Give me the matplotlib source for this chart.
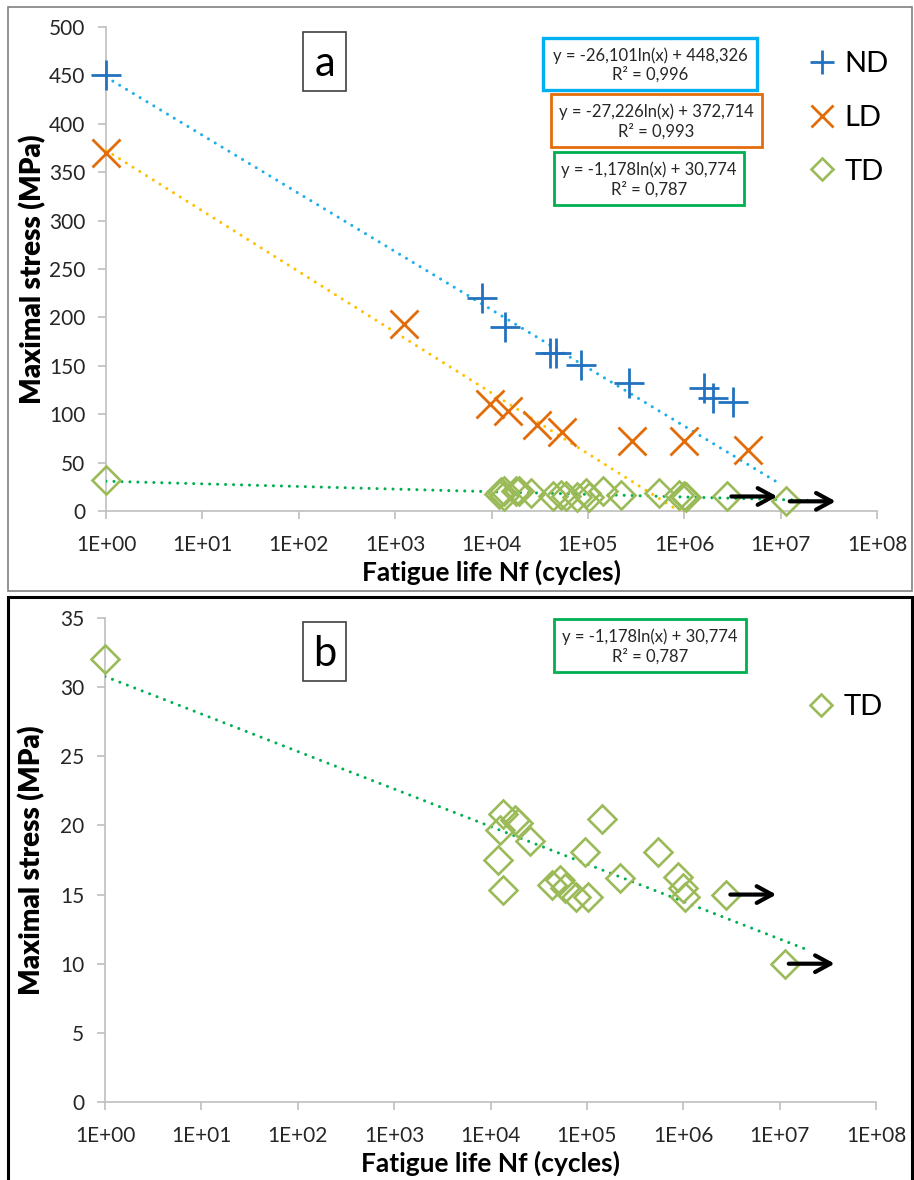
import numpy as np
import matplotlib
matplotlib.use("Agg")
import matplotlib.pyplot as plt
from matplotlib.patches import Rectangle
from matplotlib.ticker import NullLocator, FuncFormatter

plt.rcParams['font.family'] = ['Lato', 'DejaVu Sans']

# ---- data ----
nd_life = [1, 7.9e3, 1.38e4, 4.0e4, 4.7e4, 8.5e4, 2.7e5, 1.6e6, 2.0e6, 3.2e6]
nd_stress = [450, 220, 190, 163, 163, 151, 132, 127, 117, 113]

ld_life = [1, 1.25e3, 9.6e3, 1.48e4, 3.0e4, 5.4e4, 2.9e5, 1.0e6, 4.6e6]
ld_stress = [370, 193, 111, 103, 89, 82, 72, 72, 63]

td_life = [1, 1.35e4, 1.8e4, 1.94e4, 1.26e4, 2.57e4, 1.2e4, 1.35e4, 1.42e5, 9.5e4,
           4.3e4, 5.3e4, 5.9e4, 7.8e4, 1.03e5, 2.2e5, 5.5e5, 8.9e5, 1.0e6, 1.04e6,
           2.8e6, 1.13e7]
td_stress = [32, 20.8, 20.4, 20.2, 19.7, 18.9, 17.5, 15.3, 20.5, 18.1,
             15.7, 16.05, 15.5, 14.85, 14.85, 16.2, 18.1, 16.3, 15.45, 14.85,
             15.0, 10.0]

# run-outs (arrows)
runout_life = [2.8e6, 1.13e7]
runout_stress = [15.0, 10.0]

# log trend lines: y = a*ln(x) + b
nd_fit = (-26.101, 448.326, 0.996)
ld_fit = (-27.226, 372.714, 0.993)
td_fit = (-1.178, 30.774, 0.787)

xticks = [1e0, 1e1, 1e2, 1e3, 1e4, 1e5, 1e6, 1e7, 1e8]

ND_C, LD_C, TD_C = "#2372C0", "#E36C0A", "#9BBB59"
ND_T, LD_T, TD_T = "#1CAEEB", "#FFC000", "#00B050"

W, H = 914, 1180
fig = plt.figure(figsize=(W / 100, H / 100), dpi=100)


def fx(px):
    return px / W


def fy(py):
    return 1 - py / H


def fig_rect(x0, y0, x1, y1, **kw):
    r = Rectangle((fx(x0), fy(y1)), fx(x1) - fx(x0), fy(y0) - fy(y1),
                  transform=fig.transFigure, fill=False, **kw)
    fig.add_artist(r)


def eq_text(fit):
    a, b, r2 = fit
    s = f"y = {a:.3f}ln(x) + {b:.3f}\nR² = {r2:.3f}"
    return s.replace(".", ",")


def style_axes(ax, ymax, ystep):
    ax.set_xscale('log')
    ax.set_xlim(1, 1e8)
    ax.set_ylim(0, ymax)
    ax.set_xticks(xticks)
    ax.xaxis.set_minor_locator(NullLocator())
    ax.xaxis.set_major_formatter(FuncFormatter(lambda v, p: f"1E+{int(round(np.log10(v))):02d}"))
    ax.set_yticks(np.arange(0, ymax + 0.1, ystep))
    for s in ['top', 'right']:
        ax.spines[s].set_visible(False)
    for s in ['left', 'bottom']:
        ax.spines[s].set_color('#BFBFBF')
        ax.spines[s].set_linewidth(1.2)
    ax.tick_params(axis='both', direction='out', length=6, width=1.2,
                   color='#BFBFBF', labelcolor='#262626', labelsize=15, pad=9)
    ax.tick_params(axis='x', pad=11)
    ax.set_xlabel("Fatigue life Nf (cycles)", fontsize=19, fontweight='bold')
    ax.set_ylabel("Maximal stress (MPa)", fontsize=20, fontweight='heavy')
    ax.xaxis.set_label_coords(0.5, -0.1)
    ax.yaxis.set_label_coords(-0.078, 0.5)
    ax.patch.set_alpha(0)


def trend(ax, fit, xend, color):
    xs = np.geomspace(1, xend, 300)
    ax.plot(xs, fit[0] * np.log(xs) + fit[1], color=color, lw=2.2,
            ls=(0, (0.01, 2.6)), dash_capstyle='round', zorder=3)


def arrows(ax):
    for x, y in zip(runout_life, runout_stress):
        ax.annotate('', xy=(x * 3.3, y), xytext=(x * 1.1, y),
                    arrowprops=dict(arrowstyle='->,head_length=0.55,head_width=0.3',
                                    lw=3.0, color='black', shrinkA=0, shrinkB=0,
                                    mutation_scale=20), zorder=5)


mk = dict(ls='none', zorder=4, clip_on=False)

# ---- panel a ----
ax_a = fig.add_axes([fx(106), fy(511), (877 - 106) / W, (511 - 27) / H])
style_axes(ax_a, 500, 50)
trend(ax_a, nd_fit, 1e7, ND_T)
trend(ax_a, ld_fit, 9e5, LD_T)
trend(ax_a, td_fit, 2e7, TD_T)
h_nd, = ax_a.plot(nd_life, nd_stress, marker='+', ms=21, mew=2.0, color=ND_C, label='ND', **mk)
h_ld, = ax_a.plot(ld_life, ld_stress, marker='x', ms=20, mew=2.0, color=LD_C, label='LD', **mk)
h_td, = ax_a.plot(td_life, td_stress, marker='D', ms=14, mew=1.9, mfc='none', mec=TD_C, label='TD', **mk)
arrows(ax_a)
ax_a.legend(handles=[h_nd, h_ld, h_td], loc='upper left', bbox_to_anchor=(0.912, 0.95),
            frameon=False, fontsize=21, borderpad=0, handlelength=0.9, handletextpad=0.3,
            labelspacing=0.95, markerscale=0.8, borderaxespad=0)

# ---- panel b ----
ax_b = fig.add_axes([fx(105), fy(1102), (876 - 105) / W, (1102 - 618) / H])
style_axes(ax_b, 35, 5)
trend(ax_b, td_fit, 2e7, TD_T)
h_tdb, = ax_b.plot(td_life, td_stress, marker='D', ms=14, mew=1.9, mfc='none', mec=TD_C, label='TD', **mk)
arrows(ax_b)
ax_b.legend(handles=[h_tdb], loc='upper left', bbox_to_anchor=(0.912, 0.843),
            frameon=False, fontsize=21, borderpad=0, handlelength=0.9, handletextpad=0.3,
            markerscale=0.8, borderaxespad=0)

# ---- equation boxes ----
boxes = [
    ((543, 38, 757, 90), '#00B0F0', 2.4, nd_fit),
    ((551, 94, 762, 147), '#E46C0A', 2.0, ld_fit),
    ((554, 152, 744, 205), '#00B050', 2.0, td_fit),
    ((554, 619, 746, 672), '#00B050', 2.0, td_fit),
]
for (x0, y0, x1, y1), c, lw, fit in boxes:
    fig_rect(x0, y0, x1, y1, edgecolor=c, lw=lw)
    fig.text(fx((x0 + x1) / 2), fy((y0 + y1) / 2 + 1), eq_text(fit), ha='center', va='center',
             fontsize=12, color='#262626', linespacing=1.2)

# ---- panel letters ----
for letter, (x0, y0, x1, y1) in [('a', (303, 32, 346, 91)), ('b', (303, 622, 346, 681))]:
    fig_rect(x0, y0, x1, y1, edgecolor='#404040', lw=1.2)
    fig.text(fx((x0 + x1) / 2), fy((y0 + y1) / 2 + 2), letter, ha='center', va='center',
             fontsize=30, color='black')

# ---- panel frames ----
fig_rect(8, 7, 912, 591, edgecolor='#808080', lw=1.2)
fig_rect(8, 597, 912, 1186, edgecolor='black', lw=2.2)

fig.savefig("out.png", dpi=100)
